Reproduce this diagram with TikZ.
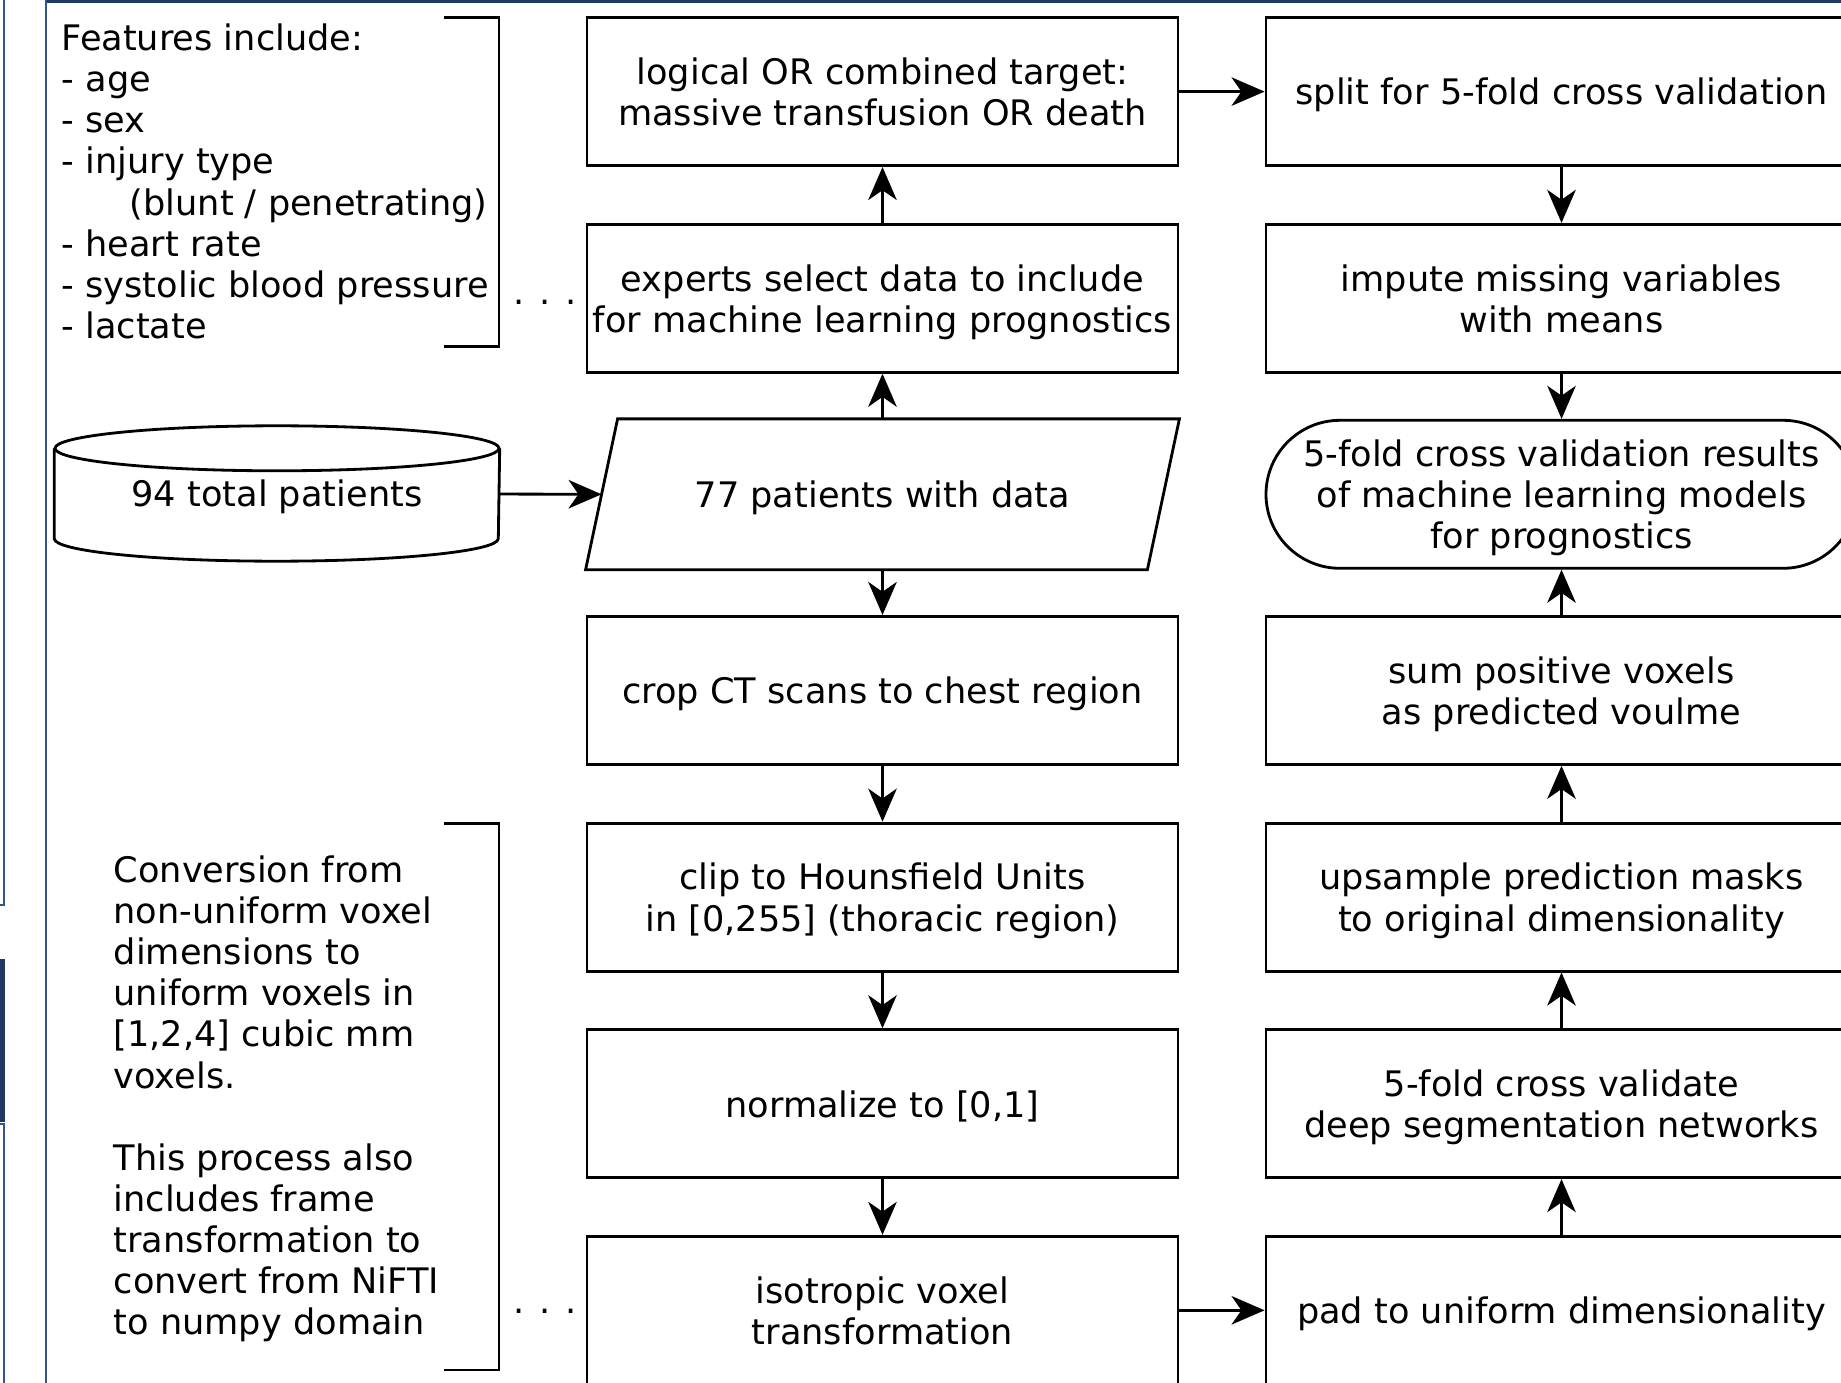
\documentclass[tikz,border=0pt]{standalone}
\usepackage{fontspec}
\setmainfont{DejaVu Sans}
\usetikzlibrary{arrows.meta,shapes.misc}
\definecolor{slidenavy}{RGB}{31,56,100}
\definecolor{slideblue}{RGB}{52,84,140}
\tikzset{
    stepbox/.style={draw=black, line width=0.8pt, minimum width=5.91cm, minimum height=1.48cm, inner sep=0pt, text depth=0pt, align=center},
    flow/.style={line width=0.8pt, -{Stealth[length=9.4pt,width=8.1pt,inset=2.8pt]}},
    note/.style={align=left, inner sep=0pt, anchor=north west},
}
\begin{document}
\begin{tikzpicture}[font={\fontsize{10pt}{11.7pt}\selectfont}]
    \useasboundingbox (0,-13.83) rectangle (18.41,0);
    \clip (0,-13.83) rectangle (18.41,0);

    % slide frame
    \fill[slidenavy] (0.45,0) rectangle (18.41,-0.03);
    \draw[slideblue, line width=0.4pt] (0.46,0) -- (0.46,-13.83);
    \draw[slideblue, line width=0.4pt] (-0.1,-9.05) -- (0.04,-9.05) -- (0.04,0.1);
    \fill[slidenavy] (-0.1,-9.59) rectangle (0.05,-11.22);
    \draw[slideblue, line width=0.4pt] (-0.1,-11.24) -- (0.04,-11.24) -- (0.04,-14);

    % middle column
    \node[stepbox] (target) at (8.825,-0.916) {logical OR combined target:\\massive transfusion OR death};
    \node[stepbox] (experts) at (8.825,-2.983) {experts select data to include\\for machine learning prognostics};
    \node[stepbox, draw=none] (data) at (8.825,-4.943) {77 patients with data};
    \draw[line width=0.8pt] ([xshift=0.32cm]data.north west) -- (data.north east) -- ([xshift=-0.32cm]data.south east) -- (data.south west) -- cycle;
    \node[stepbox] (crop) at (8.825,-6.904) {crop CT scans to chest region};
    \node[stepbox] (clip) at (8.825,-8.971) {clip to Hounsfield Units\\in [0,255] (thoracic region)};
    \node[stepbox] (normalize) at (8.825,-11.037) {normalize to [0,1]};
    \node[stepbox] (isotropic) at (8.825,-13.103) {isotropic voxel\\transformation};

    % right column
    \node[stepbox] (split) at (15.615,-0.916) {split for 5-fold cross validation};
    \node[stepbox] (impute) at (15.615,-2.983) {impute missing variables\\with means};
    \node[stepbox, rounded rectangle] (results) at (15.615,-4.943) {5-fold cross validation results\\of machine learning models\\for prognostics};
    \node[stepbox] (volume) at (15.615,-6.904) {sum positive voxels\\as predicted voulme};
    \node[stepbox] (upsample) at (15.615,-8.971) {upsample prediction masks\\to original dimensionality};
    \node[stepbox] (crossval) at (15.615,-11.037) {5-fold cross validate\\deep segmentation networks};
    \node[stepbox] (pad) at (15.615,-13.103) {pad to uniform dimensionality};

    % left column
    \node[note] (features) at (0.61,-0.232) {Features include:\\- age\\- sex\\- injury type\\\hspace*{0.68cm}(blunt / penetrating)\\- heart rate\\- systolic blood pressure\\- lactate};
    \draw[line width=0.8pt] (4.44,-0.176) -- (4.99,-0.176) -- (4.99,-3.465) -- (4.44,-3.465);
    \node[anchor=base, inner sep=0pt] (dotsa) at (5.45,-3.045) {.\hspace{4.3pt}.\hspace{4.3pt}.};

    \node[minimum width=4.44cm, minimum height=1.34cm, inner sep=0pt, text depth=0pt] (total) at (2.77,-4.935) {94 total patients};
    \draw[line width=0.8pt] ([yshift=-0.225cm]total.north) ellipse [x radius=2.22cm, y radius=0.225cm];
    \draw[line width=0.8pt] ([yshift=-0.225cm]total.north west) -- ([yshift=0.225cm]total.south west) arc [start angle=180, end angle=360, x radius=2.22cm, y radius=0.225cm] -- ([yshift=-0.225cm]total.north east);

    \node[note] (conversion) at (1.13,-8.55) {Conversion from\\non-uniform voxel\\dimensions to\\uniform voxels in\\{[1,2,4]} cubic mm\\voxels.\\[11.7pt]This process also\\includes frame\\transformation to\\convert from NiFTI\\to numpy domain};
    \draw[line width=0.8pt] (4.44,-8.231) -- (4.99,-8.231) -- (4.99,-13.70) -- (4.44,-13.70);
    \node[anchor=base, inner sep=0pt] (dotsb) at (5.45,-13.13) {.\hspace{4.3pt}.\hspace{4.3pt}.};

    % connectors
    \draw[flow] (total) -- ([xshift=0.16cm]data.west);
    \draw[flow] (data) -- (experts);
    \draw[flow] (experts) -- (target);
    \draw[flow] (target) -- (split);
    \draw[flow] (data) -- (crop);
    \draw[flow] (crop) -- (clip);
    \draw[flow] (clip) -- (normalize);
    \draw[flow] (normalize) -- (isotropic);
    \draw[flow] (isotropic) -- (pad);
    \draw[flow] (split) -- (impute);
    \draw[flow] (impute) -- (results);
    \draw[flow] (volume) -- (results);
    \draw[flow] (upsample) -- (volume);
    \draw[flow] (crossval) -- (upsample);
    \draw[flow] (pad) -- (crossval);
\end{tikzpicture}
\end{document}
